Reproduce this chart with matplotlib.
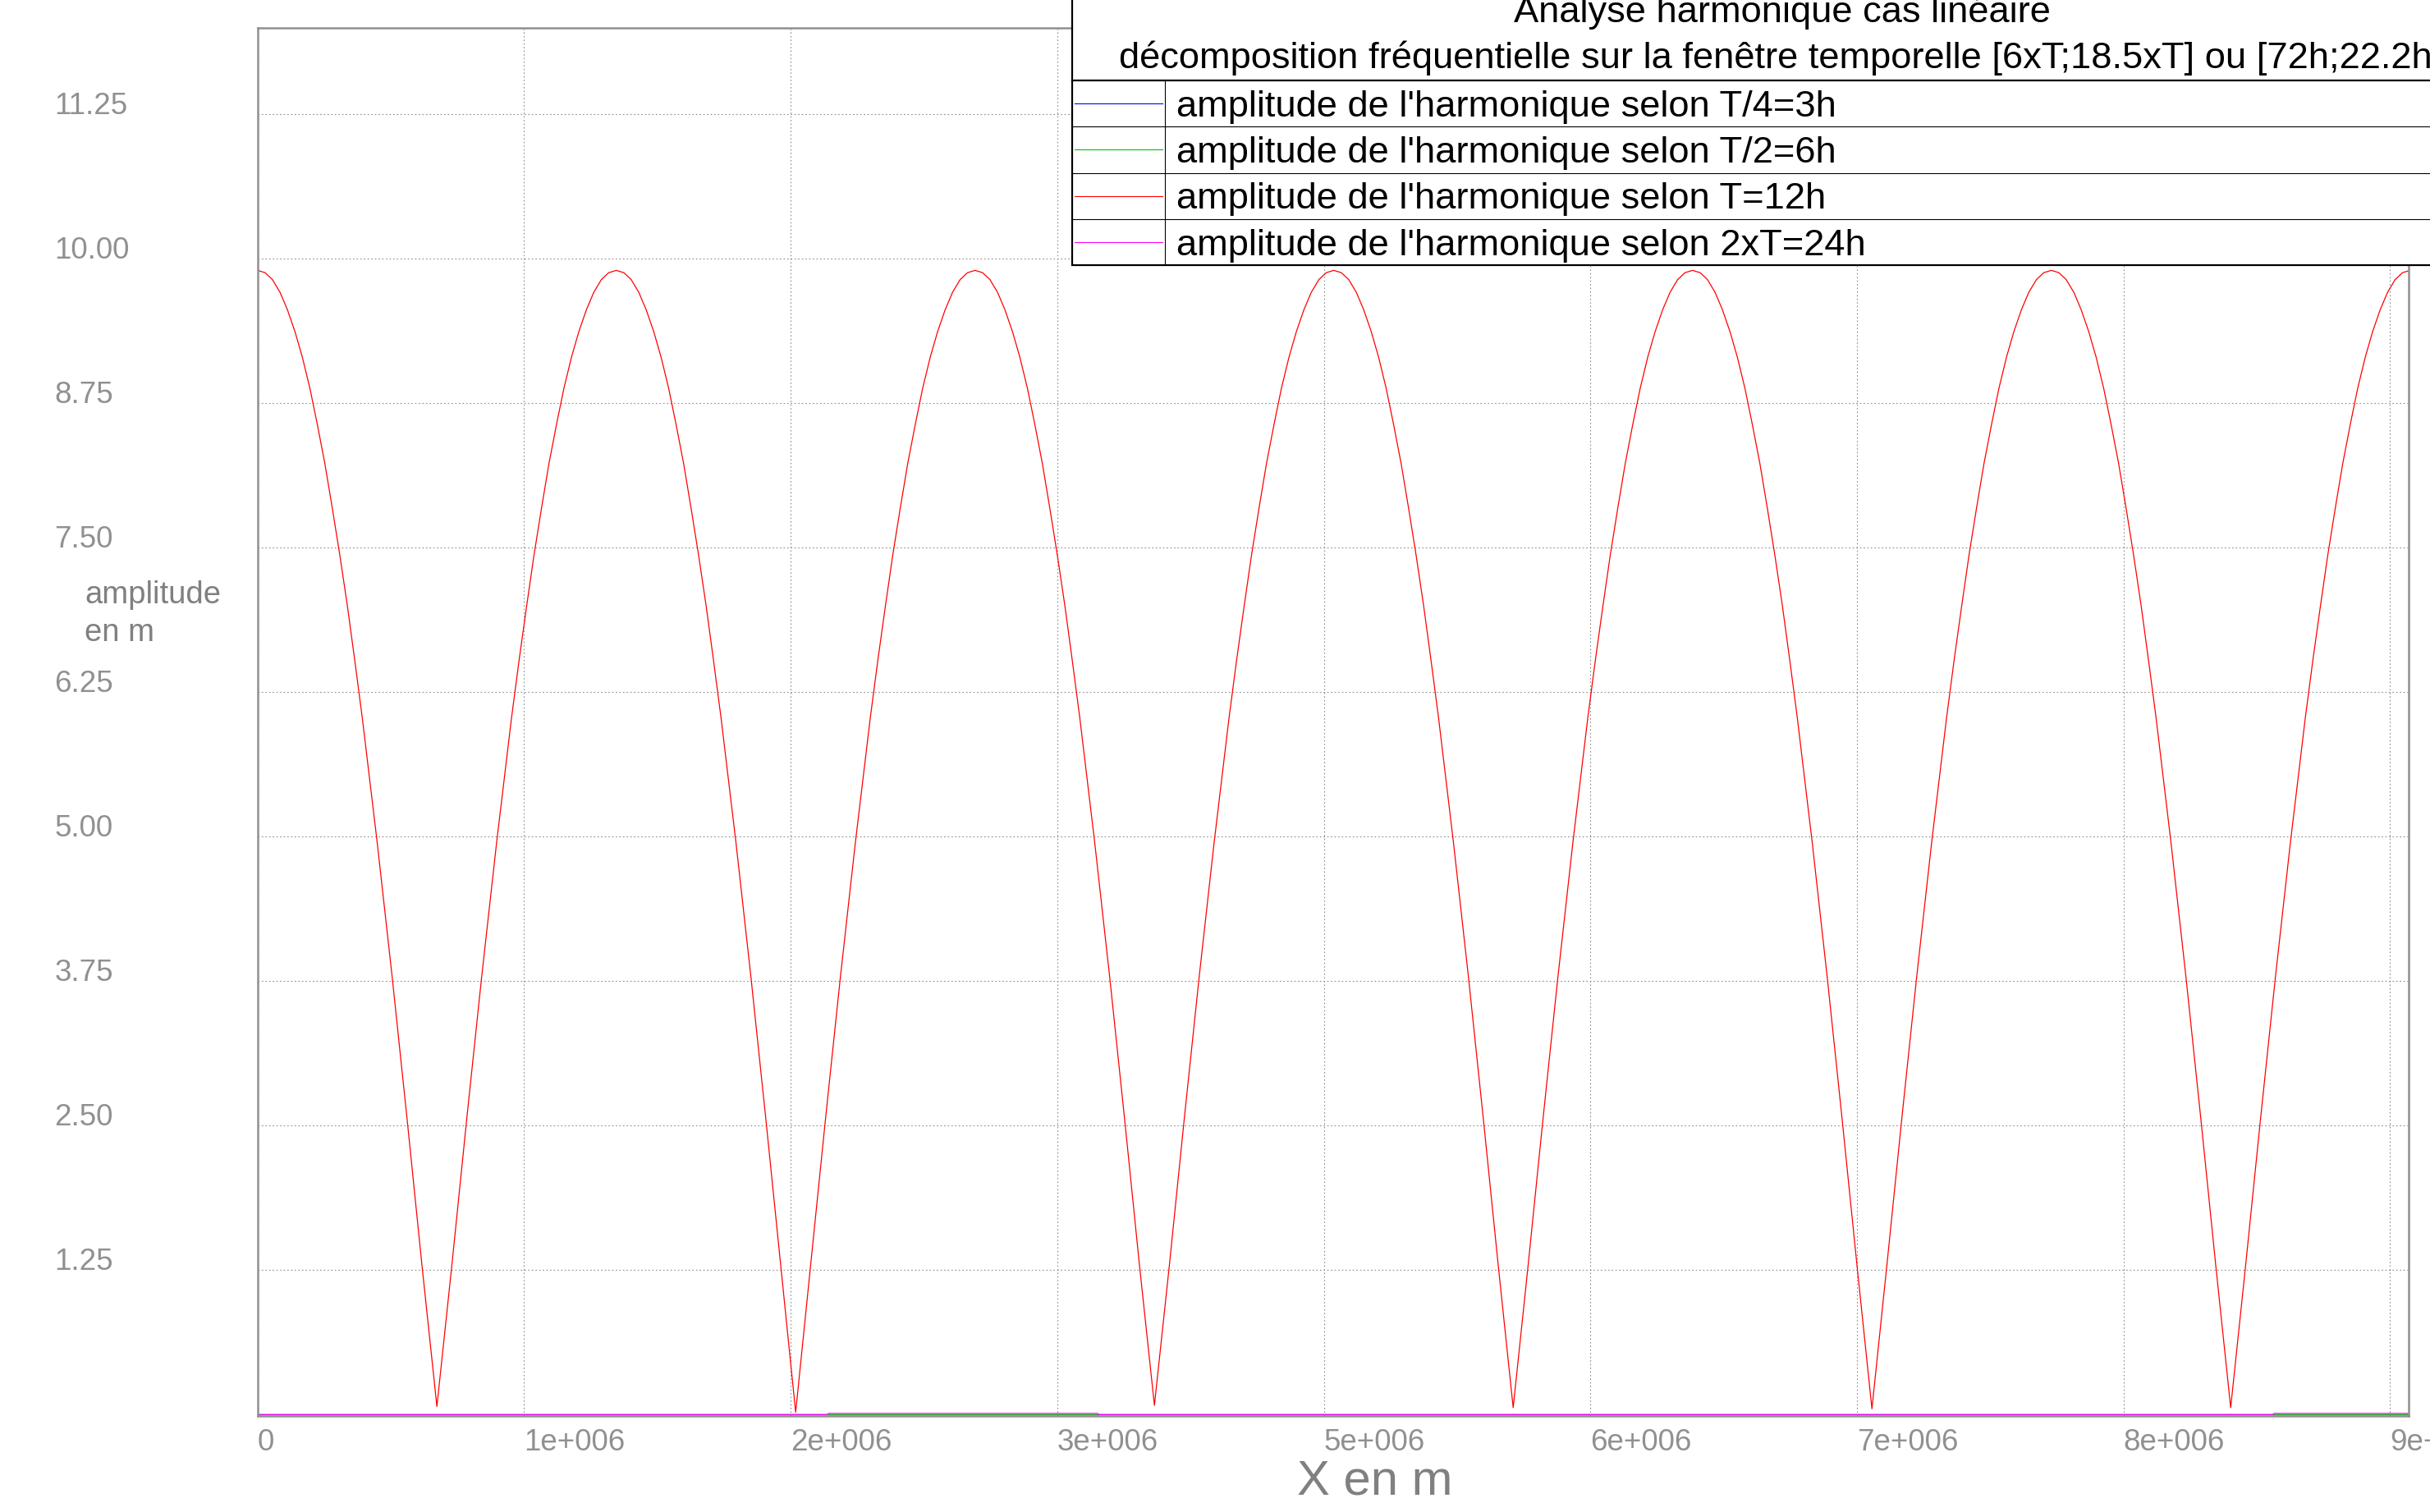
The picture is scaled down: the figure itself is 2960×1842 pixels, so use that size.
import numpy as np
import matplotlib
matplotlib.use("Agg")
import matplotlib.pyplot as plt
from matplotlib.lines import Line2D
from matplotlib.patches import Rectangle

plt.rcParams['font.family'] = ['Liberation Sans', 'DejaVu Sans']

# X in millions of metres (one row pair per arch)
x_red = [
    0.000, 0.032, 0.063, 0.095, 0.126, 0.158, 0.189, 0.221, 0.252, 0.284, 0.315, 0.347, 0.379, 0.410, 0.442,
    0.505, 0.568, 0.631, 0.694, 0.757, 0.820, 0.883, 0.946, 1.009,
    1.072, 1.104, 1.136, 1.167, 1.199, 1.230, 1.262, 1.293, 1.325, 1.356, 1.388, 1.419, 1.451, 1.482, 1.514,
    1.546, 1.577, 1.609, 1.640, 1.672, 1.703, 1.735, 1.766, 1.798, 1.829, 1.861, 1.893, 1.924, 1.956,
    2.019, 2.082, 2.145, 2.208, 2.271, 2.334, 2.397, 2.460, 2.523,
    2.586, 2.618, 2.650, 2.681, 2.713, 2.744, 2.776, 2.807, 2.839, 2.870, 2.902, 2.933, 2.965, 2.996, 3.028,
    3.060, 3.091, 3.123, 3.154, 3.186, 3.217, 3.249, 3.280, 3.312, 3.343, 3.375, 3.407, 3.438, 3.470,
    3.533, 3.596, 3.659, 3.722, 3.785, 3.848, 3.911, 3.974, 4.037,
    4.100, 4.132, 4.164, 4.195, 4.227, 4.258, 4.290, 4.321, 4.353, 4.384, 4.416, 4.447, 4.479, 4.510, 4.542,
    4.574, 4.605, 4.637, 4.668, 4.700, 4.731, 4.763, 4.794, 4.826, 4.857, 4.889, 4.921, 4.952, 4.984,
    5.047, 5.110, 5.173, 5.236, 5.299, 5.362, 5.425, 5.488, 5.551,
    5.614, 5.646, 5.678, 5.709, 5.741, 5.772, 5.804, 5.835, 5.867, 5.898, 5.930, 5.961, 5.993, 6.024, 6.056,
    6.088, 6.119, 6.151, 6.182, 6.214, 6.245, 6.277, 6.308, 6.340, 6.371, 6.403, 6.435, 6.466, 6.498,
    6.561, 6.624, 6.687, 6.750, 6.813, 6.876, 6.939, 7.002, 7.065,
    7.128, 7.160, 7.192, 7.223, 7.255, 7.286, 7.318, 7.349, 7.381, 7.412, 7.444, 7.475, 7.507, 7.538, 7.570,
    7.602, 7.633, 7.665, 7.696, 7.728, 7.759, 7.791, 7.822, 7.854, 7.885, 7.917, 7.949, 7.980, 8.012,
    8.075, 8.138, 8.201, 8.264, 8.327, 8.390, 8.453, 8.516, 8.579,
    8.642, 8.674, 8.706, 8.737, 8.769, 8.800, 8.832, 8.863, 8.895, 8.926, 8.958, 8.989, 9.021, 9.052, 9.084,
]
y_red = [
    9.90, 9.88, 9.82, 9.71, 9.56, 9.37, 9.15, 8.88, 8.57, 8.23, 7.85, 7.44, 7.00, 6.53, 6.03,
    4.95, 3.79, 2.56, 1.29, 0.07, 1.29, 2.56, 3.79, 4.95,
    6.03, 6.53, 7.00, 7.44, 7.85, 8.23, 8.57, 8.88, 9.15, 9.37, 9.56, 9.71, 9.82, 9.88, 9.90,
    9.88, 9.82, 9.71, 9.56, 9.37, 9.15, 8.88, 8.57, 8.23, 7.85, 7.44, 7.00, 6.53, 6.03,
    4.95, 3.79, 2.56, 1.29, 0.02, 1.29, 2.56, 3.79, 4.95,
    6.03, 6.53, 7.00, 7.44, 7.85, 8.23, 8.57, 8.88, 9.15, 9.37, 9.56, 9.71, 9.82, 9.88, 9.90,
    9.88, 9.82, 9.71, 9.56, 9.37, 9.15, 8.88, 8.57, 8.23, 7.85, 7.44, 7.00, 6.53, 6.03,
    4.95, 3.79, 2.56, 1.29, 0.08, 1.29, 2.56, 3.79, 4.95,
    6.03, 6.53, 7.00, 7.44, 7.85, 8.23, 8.57, 8.88, 9.15, 9.37, 9.56, 9.71, 9.82, 9.88, 9.90,
    9.88, 9.82, 9.71, 9.56, 9.37, 9.15, 8.88, 8.57, 8.23, 7.85, 7.44, 7.00, 6.53, 6.03,
    4.95, 3.79, 2.56, 1.29, 0.06, 1.29, 2.56, 3.79, 4.95,
    6.03, 6.53, 7.00, 7.44, 7.85, 8.23, 8.57, 8.88, 9.15, 9.37, 9.56, 9.71, 9.82, 9.88, 9.90,
    9.88, 9.82, 9.71, 9.56, 9.37, 9.15, 8.88, 8.57, 8.23, 7.85, 7.44, 7.00, 6.53, 6.03,
    4.95, 3.79, 2.56, 1.29, 0.05, 1.29, 2.56, 3.79, 4.95,
    6.03, 6.53, 7.00, 7.44, 7.85, 8.23, 8.57, 8.88, 9.15, 9.37, 9.56, 9.71, 9.82, 9.88, 9.90,
    9.88, 9.82, 9.71, 9.56, 9.37, 9.15, 8.88, 8.57, 8.23, 7.85, 7.44, 7.00, 6.53, 6.03,
    4.95, 3.79, 2.56, 1.29, 0.06, 1.29, 2.56, 3.79, 4.95,
    6.03, 6.53, 7.00, 7.44, 7.85, 8.23, 8.57, 8.88, 9.15, 9.37, 9.56, 9.71, 9.82, 9.88, 9.90,
]
x_blue = [0.0, 9.084]
y_blue = [0.0, 0.0]
x_green = [0.0, 9.084]
y_green = [0.0, 0.0]
x_mag = [0.0, 2.405, 2.410, 3.545, 3.550, 8.505, 8.510, 9.084]
y_mag = [0.0, 0.0, 0.01, 0.01, 0.0, 0.0, 0.01, 0.01]

labels = [
    "amplitude de l'harmonique selon T/4=3h",
    "amplitude de l'harmonique selon T/2=6h",
    "amplitude de l'harmonique selon T=12h",
    "amplitude de l'harmonique selon 2xT=24h",
]
colors = ["#0000ff", "#00c000", "#ff0000", "#ff00ff"]
series = [(x_blue, y_blue), (x_green, y_green), (x_red, y_red), (x_mag, y_mag)]

x_ticks = [0, 1.125e6, 2.25e6, 3.375e6, 4.5e6, 5.625e6, 6.75e6, 7.875e6, 9.0e6]
x_tick_labels = ["0", "1e+006", "2e+006", "3e+006", "5e+006", "6e+006", "7e+006", "8e+006", "9e+006"]
y_ticks = [1.25, 2.5, 3.75, 5.0, 6.25, 7.5, 8.75, 10.0, 11.25]
y_tick_labels = ["1.25", "2.50", "3.75", "5.00", "6.25", "7.50", "8.75", "10.00", "11.25"]

title_lines = ["Analyse harmonique cas linéaire",
               "décomposition fréquentielle sur la fenêtre temporelle [6xT;18.5xT] ou [72h;22.2h]"]

W, H = 2960, 1842
fig = plt.figure(figsize=(W / 100, H / 100), dpi=100)


def fx(px):
    return px / W


def fy(py):
    return 1 - py / H


ax = fig.add_axes([fx(313.7), fy(1725), fx(2933.7) - fx(313.7), fy(33.7) - fy(1725)])

for (xs, ys), c in zip(series, colors):
    ax.plot(np.array(xs) * 1e6, ys, color=c, lw=0.9)

ax.set_xlim(0, 9.077e6)
ax.set_ylim(-0.012, 12)
ax.set_xticks(x_ticks, x_tick_labels)
ax.set_yticks(y_ticks, y_tick_labels)
ax.tick_params(length=0, colors="#909090", labelsize=26.5)
ax.tick_params(axis="y", pad=178)
ax.tick_params(axis="x", pad=10.5)
for t in ax.get_yticklabels():
    t.set_ha("left")
    t.set_va("baseline")
for t in ax.get_xticklabels():
    t.set_ha("left")
ax.grid(True, color="#8c8c8c", lw=0.8, linestyle=(0, (1.5, 2.5)))
for s in ax.spines.values():
    s.set_color("#909090")
    s.set_linewidth(1.8)

fig.text(fx(1580), fy(1820), "X en m", fontsize=43, color="#808080", va="baseline")
fig.text(fx(103), fy(735), "amplitude", fontsize=27.5, color="#808080", va="baseline")
fig.text(fx(103), fy(780.7), "en m", fontsize=27.5, color="#808080", va="baseline")

# legend box, drawn as a table over the top right corner
tf = fig.transFigure
left, right, top, bottom = 1305.7, 3040, -10, 323.3
fig.add_artist(Rectangle((fx(left), fy(bottom)), fx(right) - fx(left), fy(top) - fy(bottom),
                         transform=tf, facecolor="white", edgecolor="black", lw=1.6, zorder=5))
fig.add_artist(Line2D([fx(left), fx(right)], [fy(97.7)] * 2, transform=tf, color="black", lw=1.6, zorder=6))
for yy in [154.3, 211, 267.3]:
    fig.add_artist(Line2D([fx(left), fx(right)], [fy(yy)] * 2, transform=tf, color="black", lw=0.8, zorder=6))
fig.add_artist(Line2D([fx(1419.3)] * 2, [fy(97.7), fy(bottom)], transform=tf, color="black", lw=0.8, zorder=6))

fig.text(fx(2171), fy(26.7), title_lines[0], fontsize=32.6, ha="center", va="baseline", zorder=7)
fig.text(fx(1362.7), fy(83.3), title_lines[1], fontsize=32.6, ha="left", va="baseline", zorder=7)

line_y = [126.3, 182.3, 239.3, 295.3]
text_y = [141.7, 197.7, 254.3, 310.5]
for lab, c, ly, ty in zip(labels, colors, line_y, text_y):
    fig.add_artist(Line2D([fx(1309), fx(1416)], [fy(ly)] * 2, transform=tf, color=c, lw=0.8, zorder=7))
    fig.text(fx(1433.3), fy(ty), lab, fontsize=32.6, va="baseline", zorder=7)

fig.savefig("out.png", dpi=100)
